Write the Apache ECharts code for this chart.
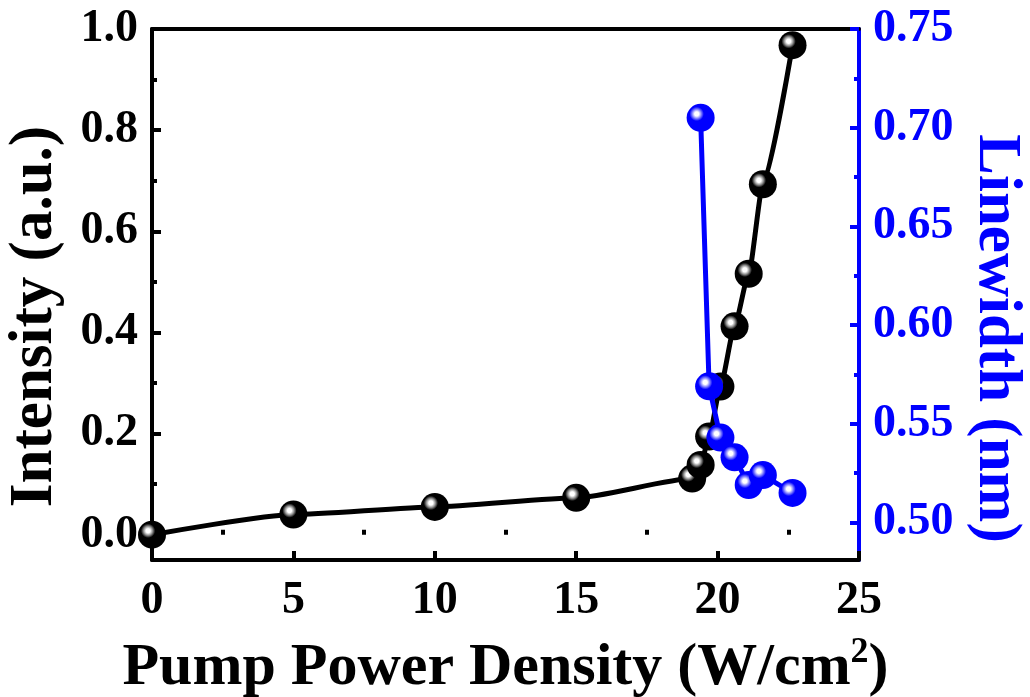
<!DOCTYPE html>
<html>
<head>
<meta charset="utf-8">
<script src="https://cdn.jsdelivr.net/npm/echarts@6/dist/echarts.min.js"></script>
<style>
html,body{margin:0;padding:0;background:#fff;}
#chart{width:1030px;height:697px;}
</style>
</head>
<body>
<div id="chart"></div>
<script>
// ---- data ----
var intensityX = [0, 5, 10, 15, 19.1, 19.4, 19.7, 20.1, 20.6, 21.1, 21.6, 22.65];
var intensityY = [0.0, 0.04, 0.055, 0.073, 0.111, 0.138, 0.194, 0.293, 0.412, 0.516, 0.693, 0.968];
var linewidthX = [19.4, 19.7, 20.1, 20.6, 21.1, 21.6, 22.65];
var linewidthY = [0.705, 0.569, 0.543, 0.533, 0.519, 0.524, 0.515];
var xTicks = [0, 5, 10, 15, 20, 25];
var xMinorTicks = [2.5, 7.5, 12.5, 17.5, 22.5];
var leftTicks = [0.0, 0.2, 0.4, 0.6, 0.8, 1.0];
var leftMinorTicks = [0.1, 0.3, 0.5, 0.7, 0.9];
var rightTicks = [0.50, 0.55, 0.60, 0.65, 0.70, 0.75];
var rightMinorTicks = [0.525, 0.575, 0.625, 0.675, 0.725];

var FONT = '"Liberation Serif", "Times New Roman", serif';
var BLUE = '#0000ff';

function pairs(xs, ys) { return xs.map(function (x, i) { return [x, ys[i]]; }); }

function sphere(base, mid) {
  return {
    type: 'radial', x: 0.36, y: 0.36, r: 0.75,
    colorStops: [
      { offset: 0, color: '#ffffff' },
      { offset: 0.1, color: '#ffffff' },
      { offset: 0.22, color: mid },
      { offset: 0.34, color: base },
      { offset: 1, color: base }
    ]
  };
}

var chart = echarts.init(document.getElementById('chart'), null, { renderer: 'canvas' });

var labelStyle = { fontFamily: FONT, fontWeight: 'bold', fontSize: 46, color: '#000' };
var gridBox = { left: 152, right: 171, top: 29, bottom: 137, containLabel: false, outerBoundsMode: 'none' };

var option = {
  backgroundColor: '#fff',
  animation: false,
  grid: [Object.assign({}, gridBox), Object.assign({}, gridBox)],
  xAxis: [
    {
      type: 'value', gridIndex: 0, min: 0, max: 25, position: 'bottom',
      name: '{a|Pump Power Density (W/cm}{s|2}{a|)}',
      nameLocation: 'middle', nameGap: 75,
      nameTextStyle: {
        rich: {
          a: { fontFamily: FONT, fontWeight: 'bold', fontSize: 60, color: '#000' },
          s: { fontFamily: FONT, fontWeight: 'bold', fontSize: 36, color: '#000', verticalAlign: 'top', padding: [0, 0, 30, 0] }
        }
      },
      axisLine: { show: true, onZero: false, lineStyle: { color: '#000', width: 4 } },
      axisTick: { show: true, inside: true, length: 9, lineStyle: { color: '#000', width: 4 }, customValues: xTicks },
      axisLabel: Object.assign({ margin: 18, customValues: xTicks, formatter: function (v) { return String(v); } }, labelStyle),
      splitLine: { show: false }
    },
    {
      type: 'value', gridIndex: 0, min: 0, max: 25, position: 'top',
      axisLine: { show: true, onZero: false, lineStyle: { color: '#000', width: 4 } },
      axisTick: { show: false }, axisLabel: { show: false }, splitLine: { show: false }
    },
    {
      type: 'value', gridIndex: 1, min: 0, max: 25, position: 'bottom',
      axisLine: { show: false },
      axisTick: { show: true, inside: true, length: 5, lineStyle: { color: '#000', width: 4 }, customValues: xMinorTicks },
      axisLabel: { show: false },
      splitLine: { show: false }
    }
  ],
  yAxis: [
    {
      type: 'value', gridIndex: 0, min: -0.05, max: 1.0, position: 'left',
      name: 'Intensity (a.u.)', nameLocation: 'middle', nameGap: 86,
      nameTextStyle: { fontFamily: FONT, fontWeight: 'bold', fontSize: 61, color: '#000', padding: [0, 44, 0, 0] },
      axisLine: { show: true, onZero: false, lineStyle: { color: '#000', width: 4 } },
      axisTick: { show: true, inside: true, length: 9, lineStyle: { color: '#000', width: 4 }, customValues: leftTicks },
      axisLabel: Object.assign({ margin: 14, customValues: leftTicks, formatter: function (v) { return v.toFixed(1); } }, labelStyle),
      splitLine: { show: false }
    },
    {
      type: 'value', gridIndex: 0, min: 0.481, max: 0.75, position: 'right',
      name: 'Linewidth (nm)', nameLocation: 'middle', nameGap: 106, nameRotate: -90,
      nameTextStyle: { fontFamily: FONT, fontWeight: 'bold', fontSize: 61, color: BLUE, padding: [0, 0, 0, 88] },
      axisLine: { show: true, onZero: false, lineStyle: { color: BLUE, width: 4 } },
      axisTick: { show: true, inside: true, length: 9, lineStyle: { color: BLUE, width: 4 }, customValues: rightTicks },
      axisLabel: Object.assign({}, labelStyle, { color: BLUE, margin: 14, customValues: rightTicks, formatter: function (v) { return v.toFixed(2); } }),
      splitLine: { show: false }
    },
    {
      type: 'value', gridIndex: 1, min: -0.05, max: 1.0, position: 'left',
      axisLine: { show: false },
      axisTick: { show: true, inside: true, length: 5, lineStyle: { color: '#000', width: 4 }, customValues: leftMinorTicks },
      axisLabel: { show: false }, splitLine: { show: false }
    },
    {
      type: 'value', gridIndex: 1, min: 0.481, max: 0.75, position: 'right',
      axisLine: { show: false },
      axisTick: { show: true, inside: true, length: 5, lineStyle: { color: BLUE, width: 4 }, customValues: rightMinorTicks },
      axisLabel: { show: false }, splitLine: { show: false }
    }
  ],
  series: [
    {
      name: 'Intensity', type: 'line', xAxisIndex: 0, yAxisIndex: 0,
      data: pairs(intensityX, intensityY),
      smooth: 0.2, smoothMonotone: 'x',
      lineStyle: { color: '#000', width: 5 },
      symbol: 'circle', symbolSize: 28,
      itemStyle: { color: sphere('#000000', '#8a8a8a'), borderWidth: 0 },
      z: 2
    },
    {
      name: 'Linewidth', type: 'line', xAxisIndex: 0, yAxisIndex: 1,
      data: pairs(linewidthX, linewidthY),
      lineStyle: { color: BLUE, width: 5 },
      symbol: 'circle', symbolSize: 28,
      itemStyle: { color: sphere('#0000ff', '#8080ff'), borderWidth: 0 },
      z: 3
    }
  ]
};
chart.setOption(option);
</script>
</body>
</html>
